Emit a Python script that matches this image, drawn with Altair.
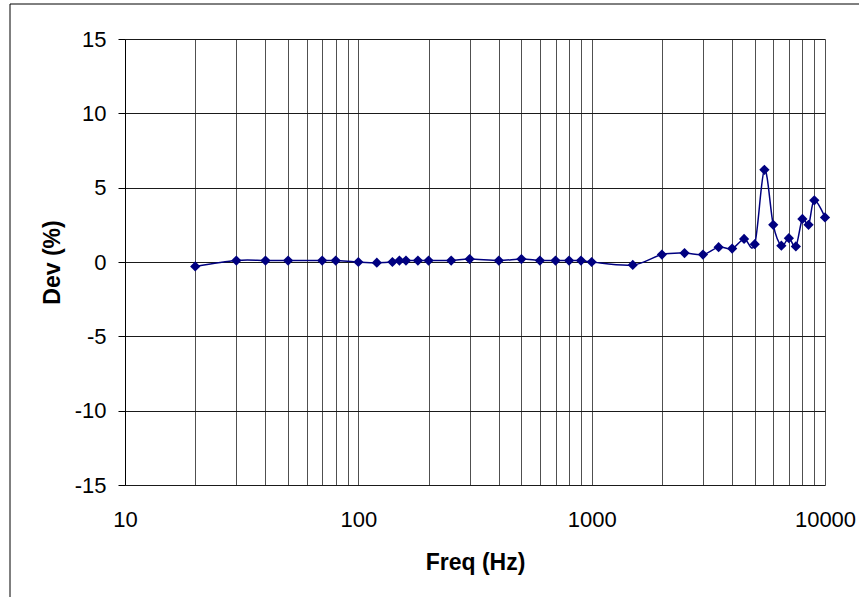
import altair as alt
import pandas as pd

freq = [20, 30, 40, 50, 70, 80, 100, 120, 140, 150, 160, 180, 200, 250, 300, 400, 500,
        600, 700, 800, 900, 1000, 1500, 2000, 2500, 3000, 3500, 4000, 4500, 5000,
        5500, 6000, 6500, 7000, 7500, 8000, 8500, 9000, 10000]
dev = [-0.3, 0.1, 0.1, 0.1, 0.1, 0.1, 0.0, -0.05, 0.0, 0.1, 0.1, 0.1, 0.1, 0.1, 0.2, 0.1, 0.2,
       0.1, 0.1, 0.1, 0.1, 0.0, -0.2, 0.5, 0.6, 0.5, 1.0, 0.9, 1.55, 1.2,
       6.2, 2.5, 1.1, 1.6, 1.05, 2.9, 2.5, 4.15, 3.0]

x_grid = [m * 10 ** e for e in range(1, 4) for m in range(1, 10)] + [10000]
y_ticks = [-15, -10, -5, 0, 5, 10, 15]

df = pd.DataFrame({"Freq": freq, "Dev": dev})

FONT = "Liberation Sans"

x_enc = alt.X(
    "Freq:Q",
    scale=alt.Scale(type="log", domain=[10, 10000], nice=False),
    axis=alt.Axis(
        title="Freq (Hz)",
        values=x_grid,
        labelExpr="(datum.value == 10 || datum.value == 100 || datum.value == 1000 || datum.value == 10000) ? '' + datum.value : ''",
        labelOverlap=False,
        labelFlush=False,
        ticks=False,
        domain=False,
        labelPadding=24,
        titlePadding=21,
        gridColor="#505050",
        gridOpacity=1,
    ),
)
y_enc = alt.Y(
    "Dev:Q",
    scale=alt.Scale(domain=[-15, 15], nice=False),
    axis=alt.Axis(
        title="Dev (%)",
        values=y_ticks,
        labelExpr="'' + datum.value",
        tickSize=7,
        tickColor="black",
        domainColor="black",
        labelPadding=12,
        titlePadding=10,
        gridColor="#1a1a1a",
        gridOpacity=1,
    ),
)

line = alt.Chart(df).mark_line(color="#000080", strokeWidth=1.5, interpolate="cardinal").encode(x=x_enc, y=y_enc)
pts = alt.Chart(df).mark_point(shape="diamond", filled=True, color="#000080", size=105, opacity=1).encode(x=x_enc, y=y_enc)

frame = alt.Chart(alt.Data(values=[{"a": 1}])).mark_rect(
    fillOpacity=0, stroke="black", strokeWidth=1
).encode(
    x=alt.value(-115), x2=alt.value(950), y=alt.value(-35), y2=alt.value(800)
)

chart = alt.layer(frame, line, pts).properties(
    width=700,
    height=446,
    padding={"left": 125, "top": 39, "right": 34, "bottom": 112},
    autosize=alt.AutoSizeParams(type="none"),
    background="white",
).configure_view(stroke=None).configure_axis(
    labelFont=FONT,
    titleFont=FONT,
    labelFontSize=22,
    titleFontSize=23,
    titleFontWeight="bold",
    labelColor="black",
    titleColor="black",
    gridWidth=1,
)

chart.save("out.html", embed_options={"renderer": "svg", "actions": False})
